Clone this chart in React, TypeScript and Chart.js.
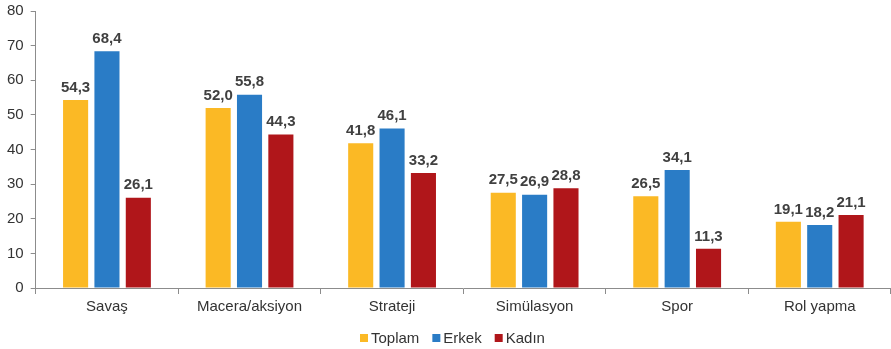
import React, { useEffect, useRef } from "react";
import { Chart, registerables } from "chart.js";

Chart.register(...registerables);

const categories = ["Savaş", "Macera/aksiyon", "Strateji", "Simülasyon", "Spor", "Rol yapma"];
const toplam = [54.3, 52.0, 41.8, 27.5, 26.5, 19.1];
const erkek = [68.4, 55.8, 46.1, 26.9, 34.1, 18.2];
const kadin = [26.1, 44.3, 33.2, 28.8, 11.3, 21.1];
const seriesNames = ["Toplam", "Erkek", "Kadın"];
const seriesColors = ["#FBB925", "#2A7CC6", "#B0161A"];
const yTicks = [0, 10, 20, 30, 40, 50, 60, 70, 80];

const FONT = "'Liberation Sans', Arial, sans-serif";
const SHIFT = 5;

const labelPlugin = {
  id: "valueLabels",
  afterDatasetsDraw(chart: any) {
    const ctx = chart.ctx;
    ctx.save();
    ctx.font = `bold 15px ${FONT}`;
    ctx.fillStyle = "#404040";
    ctx.textAlign = "center";
    ctx.textBaseline = "bottom";
    chart.data.datasets.forEach((ds: any, i: number) => {
      const meta = chart.getDatasetMeta(i);
      meta.data.forEach((bar: any, j: number) => {
        const v = ds.data[j] as number;
        ctx.fillText(v.toFixed(1).replace(".", ","), bar.x, bar.y - 5);
      });
    });
    ctx.restore();
  },
};

const legendPlugin = {
  id: "customLegend",
  afterDraw(chart: any) {
    const ctx = chart.ctx;
    ctx.save();
    ctx.font = `15px ${FONT}`;
    ctx.textBaseline = "middle";
    ctx.textAlign = "left";
    const box = 8;
    const gapText = 3;
    const gapItem = 13;
    const items = chart.data.datasets.map((ds: any) => ({
      label: ds.label,
      color: ds.backgroundColor,
      w: box + gapText + ctx.measureText(ds.label).width,
    }));
    let x = 360;
    const y = chart.height - 10;
    items.forEach((it: any) => {
      ctx.fillStyle = it.color;
      ctx.fillRect(x, y - box / 2 - 1, box, box);
      ctx.fillStyle = "#333";
      ctx.fillText(it.label, x + box + gapText, y);
      x += it.w + gapItem;
    });
    ctx.restore();
  },
};

export default function App() {
  const ref = useRef<HTMLCanvasElement>(null);
  useEffect(() => {
    document.body.style.margin = "0";
    const chart = new Chart(ref.current!, {
      type: "bar",
      data: {
        labels: categories,
        datasets: seriesNames.map((name, i) => ({
          label: name,
          data: [toplam, erkek, kadin][i],
          backgroundColor: seriesColors[i],
        })),
      },
      options: {
        animation: false,
        responsive: false,
        layout: { padding: { top: 0, right: 0, left: 0, bottom: 0 } },
        datasets: { bar: { categoryPercentage: 0.66, barPercentage: 0.8 } },
        scales: {
          x: {
            afterFit: (scale: any) => {
              scale.height = 61;
            },
            grid: { drawOnChartArea: false, tickLength: 6, color: "#8c8c8c", offset: true },
            border: { color: "#8c8c8c" },
            ticks: { color: "#333", font: { family: FONT, size: 15 }, padding: 4 },
          },
          y: {
            min: 0,
            max: 80,
            afterBuildTicks: (axis: any) => {
              axis.ticks = yTicks.map((v) => ({ value: v }));
            },
            grid: { drawOnChartArea: false, tickLength: 5, color: "#8c8c8c" },
            border: { color: "#8c8c8c" },
            ticks: { color: "#333", font: { family: FONT, size: 15 }, padding: 7 },
          },
        },
        plugins: {
          legend: { display: false },
          tooltip: { enabled: false },
        },
      },
      plugins: [labelPlugin, legendPlugin],
    });
    return () => chart.destroy();
  }, []);
  return (
    <div style={{ width: 891, height: 349, overflow: "hidden" }}>
      <canvas
        ref={ref}
        width={891}
        height={349 + SHIFT}
        style={{ display: "block", marginTop: -SHIFT }}
      />
    </div>
  );
}
